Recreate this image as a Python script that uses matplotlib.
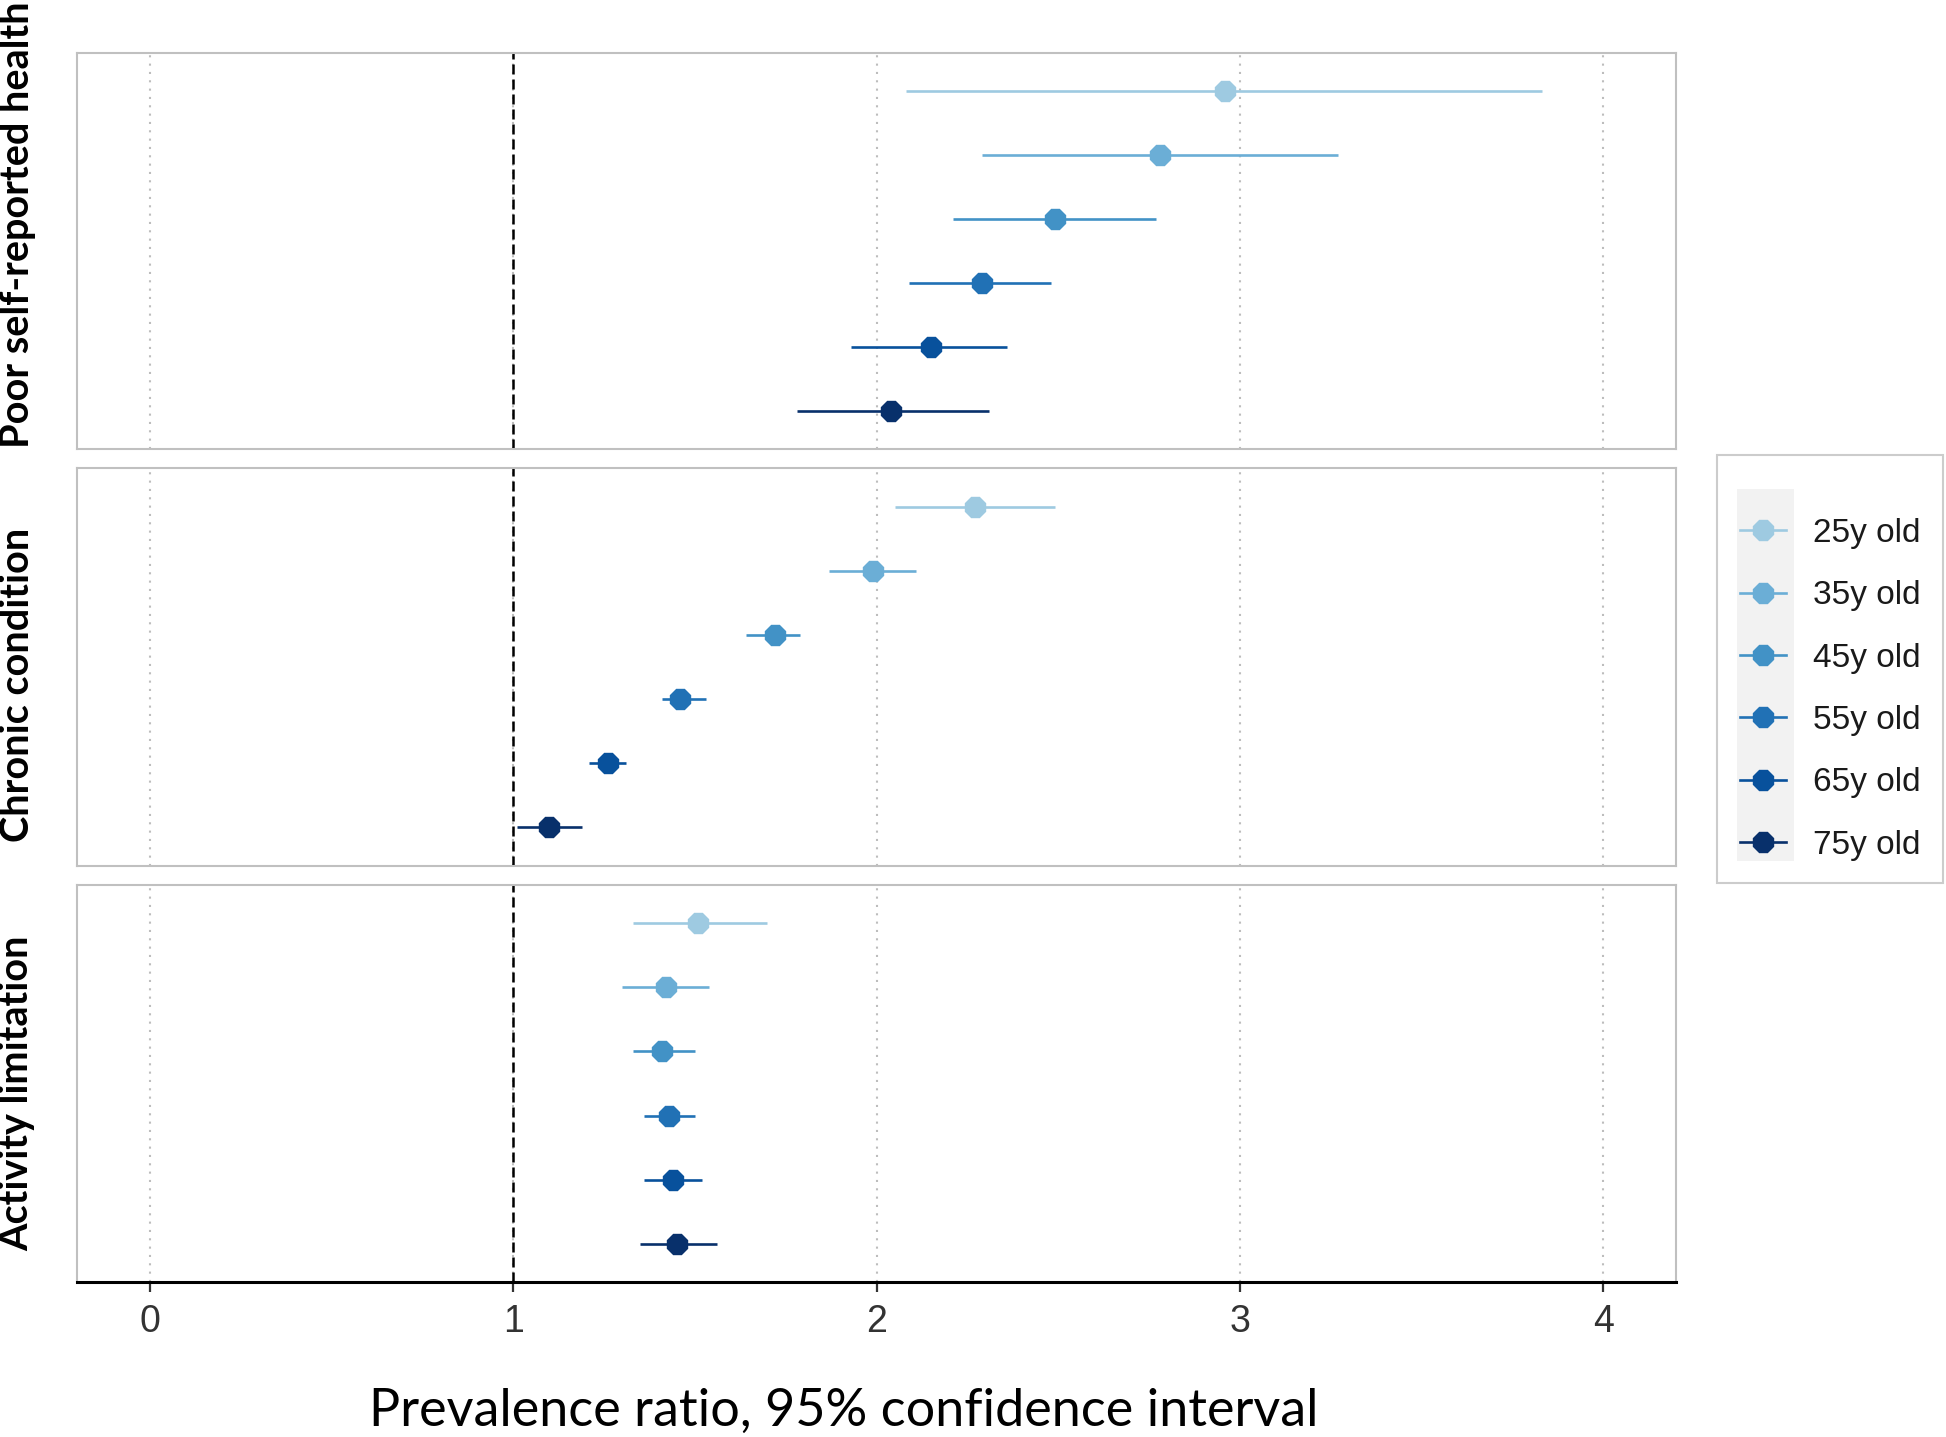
import numpy as np
import matplotlib
matplotlib.use("Agg")
import matplotlib.pyplot as plt
from matplotlib.lines import Line2D
from matplotlib.patches import Rectangle

# data
ages = ["25y old", "35y old", "45y old", "55y old", "65y old", "75y old"]
colors = ["#9ecae1", "#6baed6", "#4292c6", "#2171b5", "#08519c", "#08306b"]
outcomes = ["Poor self-reported health", "Chronic condition", "Activity limitation"]

pr_health = [2.96, 2.78, 2.49, 2.29, 2.15, 2.04]
lo_health = [2.08, 2.29, 2.21, 2.09, 1.93, 1.78]
hi_health = [3.83, 3.27, 2.77, 2.48, 2.36, 2.31]

pr_chronic = [2.27, 1.99, 1.72, 1.46, 1.26, 1.10]
lo_chronic = [2.05, 1.87, 1.64, 1.41, 1.21, 1.01]
hi_chronic = [2.49, 2.11, 1.79, 1.53, 1.31, 1.19]

pr_activity = [1.51, 1.42, 1.41, 1.43, 1.44, 1.45]
lo_activity = [1.33, 1.30, 1.33, 1.36, 1.36, 1.35]
hi_activity = [1.70, 1.54, 1.50, 1.50, 1.52, 1.56]

panels = [
    (pr_health, lo_health, hi_health),
    (pr_chronic, lo_chronic, hi_chronic),
    (pr_activity, lo_activity, hi_activity),
]
x_ticks = [0, 1, 2, 3, 4]

W, H = 1946, 1437
fig = plt.figure(figsize=(W / 100, H / 100), dpi=100)

# panel boxes in pixels: (top, bottom)
left_px, right_px = 77, 1676
panel_px = [(53, 449), (468, 866), (885, 1282)]
label_yc = [0.566, 0.455, 0.476]

label_font = ["Lato", "DejaVu Sans"]
tick_font = ["Liberation Sans Narrow", "Liberation Sans", "DejaVu Sans"]

axes = []
for i, (top, bot) in enumerate(panel_px):
    ax = fig.add_axes([left_px / W, 1 - bot / H, (right_px - left_px) / W, (bot - top) / H])
    pr, lo, hi = panels[i]
    ypos = np.arange(1, len(ages) + 1)
    for j in range(len(ages)):
        ax.errorbar(pr[j], ypos[j], xerr=[[pr[j] - lo[j]], [hi[j] - pr[j]]],
                    fmt="8", color=colors[j], ms=15, elinewidth=1.9, capsize=0,
                    mec=colors[j], zorder=3)
    ax.axvline(1, color="black", ls=(0, (4, 2)), lw=1.8, zorder=2)
    ax.set_xlim(-0.2, 4.2)
    ax.set_ylim(6.6, 0.4)
    ax.set_xticks(x_ticks)
    ax.set_yticks([])
    ax.grid(axis="x", color="#bdbdbd", ls=(0, (1, 3)), lw=1.5)
    for s in ax.spines.values():
        s.set_color("#c0c0c0")
        s.set_linewidth(1.5)
    ax.text(-0.0375, label_yc[i], outcomes[i], transform=ax.transAxes,
            rotation=90, ha="center", va="center", fontsize=28.5,
            fontweight="bold", family=label_font)
    if i < 2:
        ax.tick_params(axis="x", length=0, labelbottom=False)
    else:
        ax.spines["bottom"].set_color("black")
        ax.spines["bottom"].set_linewidth(2.2)
        ax.tick_params(axis="x", length=7, width=1.6, color="#333333",
                       labelsize=27, labelcolor="#333333", pad=9)
        for t in ax.get_xticklabels():
            t.set_family(tick_font)
    axes.append(ax)

fig.text(844 / W, 1 - 1411 / H, "Prevalence ratio, 95% confidence interval",
         ha="center", va="center", fontsize=37.5, family=label_font)

handles = [Line2D([0], [0], color=c, lw=1.9, marker="8", ms=15, mec=c) for c in colors]
leg = fig.legend(handles, ages, loc="center left",
                 bbox_to_anchor=(1717 / W, 1 - 669 / H), borderaxespad=0,
                 prop={"family": ["Liberation Sans", "DejaVu Sans"], "size": 24},
                 labelcolor="#1a1a1a", handlelength=1.4, handletextpad=0.8,
                 labelspacing=0.94, borderpad=0.68, title=" ",
                 title_fontproperties={"size": 6}, fancybox=False)
leg.get_frame().set_edgecolor("#c0c0c0")
leg.get_frame().set_linewidth(1.5)
leg.get_frame().set_facecolor("none")

# grey key background (ggplot style)
fig.canvas.draw()
r = fig.canvas.get_renderer()
lb = leg.get_window_extent(r)
tb = leg.get_texts()[0].get_window_extent(r)
x0 = lb.x0 + 20
x1 = tb.x0 - 19
y0 = lb.y0 + 22
y1 = lb.y1 - 34
fig.patches.append(Rectangle((x0, y0), x1 - x0, y1 - y0, transform=None,
                             facecolor="#f2f2f2", edgecolor="none", zorder=0))

fig.savefig("out.png", dpi=100, facecolor="white")
